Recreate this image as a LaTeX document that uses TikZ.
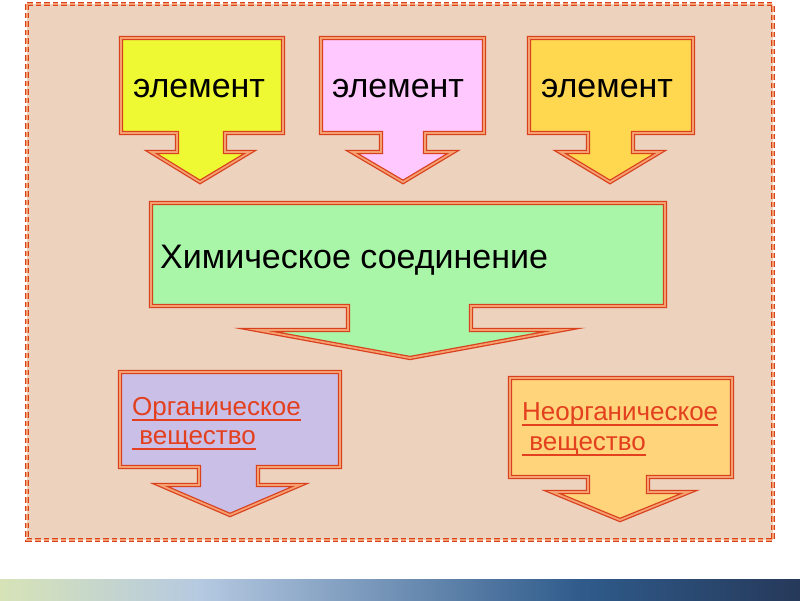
\documentclass[tikz,border=0pt]{standalone}
\usepackage{fontspec}
\setmainfont{Liberation Sans}
\definecolor{panelfill}{HTML}{EDD2BE}
\definecolor{edgered}{HTML}{D9401C}
\definecolor{edgepeach}{HTML}{F5A071}
\definecolor{labelred}{HTML}{E2401E}
\definecolor{fillyellow}{HTML}{EEF933}
\definecolor{fillpink}{HTML}{FFC8FF}
\definecolor{fillgold}{HTML}{FFD850}
\definecolor{fillgreen}{HTML}{A9F6A9}
\definecolor{filllilac}{HTML}{C9BFE7}
\definecolor{fillorange}{HTML}{FFD47A}
\definecolor{barA}{HTML}{D7E3B7}
\definecolor{barB}{HTML}{B5C9E1}
\definecolor{barC}{HTML}{2F5B8B}
\definecolor{barD}{HTML}{26395A}
\tikzset{
    callout/.style={draw=edgered,double=edgepeach,double distance=1.8pt,
        line width=1.25pt,line join=miter,miter limit=15},
    panel/.style={fill=panelfill,draw=edgered,double=edgepeach,double distance=1.5pt,
        line width=1.2pt,dash pattern=on 5.5pt off 3pt},
    elemtext/.style={font=\fontsize{34}{40}\selectfont,inner sep=0pt},
    substtext/.style={font=\fontsize{26}{30}\selectfont,text=labelred,inner sep=0pt},
    uline/.style={draw=labelred,line width=2pt}
}
\begin{document}
\begin{tikzpicture}[x=1pt,y=-1pt]
        \useasboundingbox (0,0) rectangle (800,600);
        %% Background
        \draw[panel] (27,4) rectangle (773,540);
        \shade[left color=barA,right color=barB] (0,579) rectangle (200.5,600);
        \shade[left color=barB,right color=barC] (200,579) rectangle (580.5,600);
        \shade[left color=barC,right color=barD] (580,579) rectangle (800,600);
        %% Elements
        \draw[callout,fill=fillyellow] (121,38) -- (283,38) -- (283,133) -- (225,133) -- (225,152)
            -- (250,152) -- (200,182) -- (151,152) -- (177,152) -- (177,133) -- (121,133) -- cycle;
        \draw[callout,fill=fillpink] (321,38) -- (484,38) -- (484,133) -- (425,133) -- (425,152)
            -- (453,152) -- (403,182) -- (352,152) -- (381,152) -- (381,133) -- (321,133) -- cycle;
        \draw[callout,fill=fillgold] (529,38) -- (693,38) -- (693,133) -- (633,133) -- (633,152)
            -- (660,152) -- (610,182) -- (560,152) -- (588,152) -- (588,133) -- (529,133) -- cycle;
        \node[elemtext,anchor=base] (el1) at (199,97) {элемент};
        \node[elemtext,anchor=base] (el2) at (398,97) {элемент};
        \node[elemtext,anchor=base] (el3) at (607,97) {элемент};
        %% Compound
        \draw[callout,fill=fillgreen] (151,203) -- (665,203) -- (665,306) -- (471,306) -- (471,330)
            -- (562,330) -- (410,358) -- (257,330) -- (348,330) -- (348,306) -- (151,306) -- cycle;
        \node[elemtext,anchor=base west] (compound) at (160,268) {Химическое соединение};
        %% Substances
        \draw[callout,fill=filllilac] (120,372) -- (340,372) -- (340,467) -- (258,467) -- (258,485)
            -- (300,485) -- (230,515) -- (160,485) -- (199,485) -- (199,467) -- (120,467) -- cycle;
        \draw[callout,fill=fillorange] (510,378) -- (732,378) -- (732,477) -- (648,477) -- (648,492)
            -- (689,492) -- (620,520) -- (552,492) -- (588,492) -- (588,477) -- (510,477) -- cycle;
        \node[substtext,anchor=base west] (org1) at (132,415) {Органическое};
        \node[substtext,anchor=base west] (org2) at (132,444) {\ вещество};
        \node[substtext,anchor=base west] (inorg1) at (522,420) {Неорганическое};
        \node[substtext,anchor=base west] (inorg2) at (522,450) {\ вещество};
        \draw[uline] ([yshift=-4.5pt]org1.base west) -- ([yshift=-4.5pt]org1.base east);
        \draw[uline] ([yshift=-4.5pt]org2.base west) -- ([yshift=-4.5pt]org2.base east);
        \draw[uline] ([yshift=-4.5pt]inorg1.base west) -- ([yshift=-4.5pt]inorg1.base east);
        \draw[uline] ([yshift=-4.5pt]inorg2.base west) -- ([yshift=-4.5pt]inorg2.base east);
    \end{tikzpicture}
\end{document}
